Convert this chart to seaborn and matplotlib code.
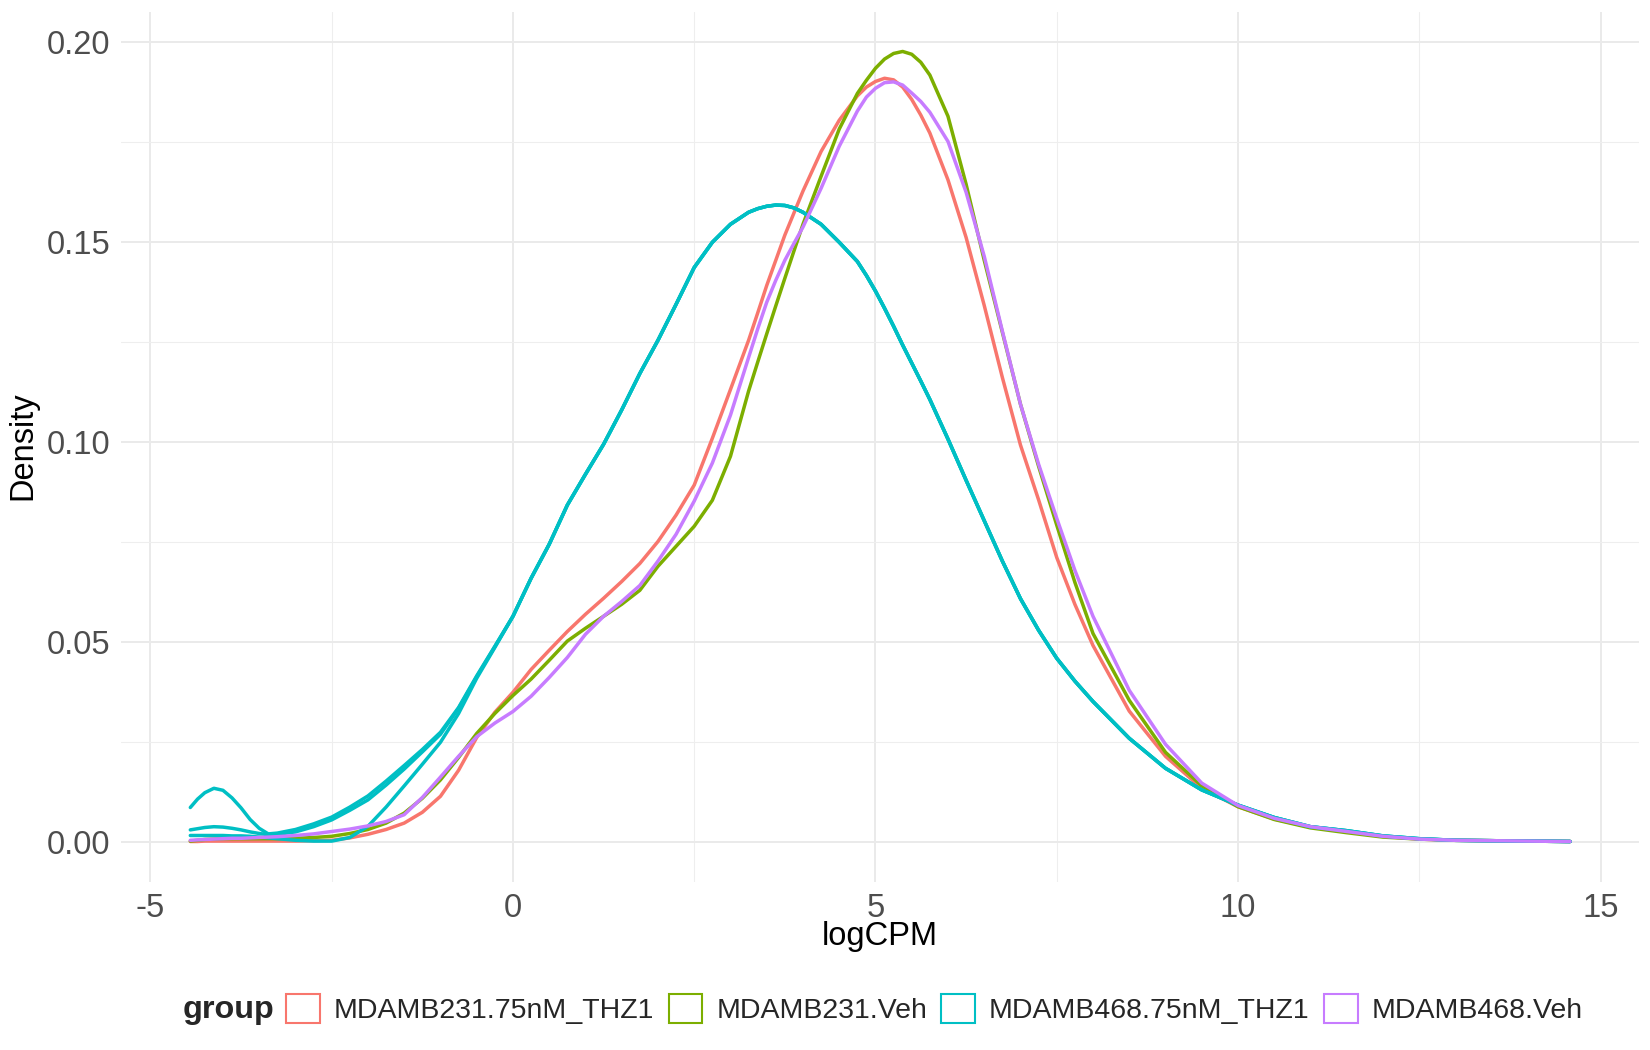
import numpy as np
import pandas as pd
import seaborn as sns
import matplotlib.pyplot as plt
from matplotlib.patches import Patch
from matplotlib.ticker import MultipleLocator, FormatStrFormatter

logcpm_low = [-4.45, -4.35, -4.25, -4.125, -4.0, -3.875, -3.75, -3.625, -3.5, -3.375, -3.25, -3.0,
              -2.75, -2.5, -2.25, -2.0, -1.75, -1.5, -1.25, -1.0, -0.75, -0.5, -0.25]
logcpm_high = [0.0, 0.25, 0.5, 0.75, 1.0, 1.25, 1.5, 1.75, 2.0, 2.25, 2.5, 2.75, 3.0, 3.25,
               3.375, 3.5, 3.625, 3.75, 3.875, 4.0,
               4.25, 4.5, 4.75,
               4.875, 5.0, 5.125, 5.25, 5.375, 5.5, 5.625, 5.75,
               6.0, 6.25, 6.5, 6.75, 7.0, 7.25, 7.5, 7.75, 8.0,
               8.5, 9.0, 9.5, 10.0, 10.5, 11.0, 11.5, 12.0, 12.5, 13.0, 13.5, 14.0, 14.58]
logcpm = logcpm_low + logcpm_high

group_names = ["MDAMB231.75nM_THZ1", "MDAMB231.Veh", "MDAMB468.75nM_THZ1", "MDAMB468.Veh"]
group_colors = ["#F8766D", "#7CAE00", "#00BFC4", "#C77CFF"]

# MDAMB231 + THZ1
low_231_thz1 = [0.0002, 0.0002, 0.0003, 0.0003, 0.0003, 0.0003, 0.0003, 0.0003, 0.0003, 0.0003, 0.0003, 0.0003,
                0.0004, 0.0005, 0.0011, 0.0020, 0.0032, 0.0048, 0.0075, 0.0115, 0.0180, 0.0262, 0.0325]
high_231_thz1 = [0.0375, 0.0432, 0.0480, 0.0527, 0.0570, 0.0610, 0.0652, 0.0697, 0.0752, 0.0818, 0.0893, 0.1010, 0.1132, 0.1255,
                 0.1323, 0.1392, 0.1455, 0.1518, 0.1573, 0.1628,
                 0.1727, 0.1805, 0.1866,
                 0.1888, 0.1902, 0.1910, 0.1906, 0.1888, 0.1857, 0.1818, 0.1773,
                 0.1656, 0.1512, 0.1342, 0.1162, 0.0993, 0.0856, 0.0712, 0.0595, 0.0492,
                 0.0328, 0.0215, 0.0135, 0.0089, 0.0058, 0.0038, 0.0027, 0.0015, 0.0008, 0.0005, 0.0004, 0.0003, 0.0002]

# MDAMB231 vehicle
low_231_veh = [0.0003, 0.0005, 0.0007, 0.0008, 0.0009, 0.0009, 0.0009, 0.0009, 0.0009, 0.0009, 0.0009, 0.0010,
               0.0012, 0.0015, 0.0022, 0.0032, 0.0048, 0.0073, 0.0110, 0.0156, 0.0212, 0.0272, 0.0322]
high_231_veh = [0.0367, 0.0408, 0.0455, 0.0503, 0.0535, 0.0565, 0.0595, 0.0630, 0.0690, 0.0740, 0.0790, 0.0855, 0.0965, 0.1128,
                0.1200, 0.1271, 0.1341, 0.1410, 0.1478, 0.1545,
                0.1665, 0.1783, 0.1872,
                0.1905, 0.1935, 0.1958, 0.1972, 0.1977, 0.1970, 0.1950, 0.1918,
                0.1815, 0.1645, 0.1455, 0.1275, 0.1095, 0.0940, 0.0793, 0.0650, 0.0522,
                0.0355, 0.0225, 0.0141, 0.0089, 0.0057, 0.0036, 0.0024, 0.0013, 0.0008, 0.0005, 0.0004, 0.0003, 0.0002]

# MDAMB468 vehicle
low_468_veh = [0.0005, 0.0006, 0.0007, 0.0008, 0.0009, 0.0010, 0.0010, 0.0011, 0.0012, 0.0013, 0.0014, 0.0017,
               0.0021, 0.0027, 0.0033, 0.0041, 0.0052, 0.0069, 0.0112, 0.0163, 0.0215, 0.0264, 0.0298]
high_468_veh = [0.0327, 0.0365, 0.0412, 0.0462, 0.0520, 0.0565, 0.0602, 0.0642, 0.0703, 0.0770, 0.0853, 0.0948, 0.1068, 0.1212,
                0.1283, 0.1350, 0.1405, 0.1455, 0.1497, 0.1538,
                0.1635, 0.1740, 0.1828,
                0.1863, 0.1885, 0.1899, 0.1901, 0.1893, 0.1873, 0.1852, 0.1825,
                0.1752, 0.1625, 0.1465, 0.1278, 0.1095, 0.0945, 0.0810, 0.0680, 0.0565,
                0.0380, 0.0245, 0.0148, 0.0092, 0.0060, 0.0039, 0.0027, 0.0015, 0.0008, 0.0005, 0.0004, 0.0003, 0.0002]

# MDAMB468 + THZ1: three replicates that only split apart below logCPM 0
low_468_thz1_a = [0.0087, 0.0108, 0.0124, 0.0135, 0.0130, 0.0111, 0.0086, 0.0057, 0.0035, 0.0021, 0.0023, 0.0032,
                  0.0046, 0.0063, 0.0088, 0.0116, 0.0153, 0.0192, 0.0232, 0.0275, 0.0337, 0.0416, 0.0490]
low_468_thz1_b = [0.0031, 0.0034, 0.0037, 0.0039, 0.0038, 0.0035, 0.0031, 0.0026, 0.0022, 0.0019, 0.0020, 0.0026,
                  0.0039, 0.0056, 0.0080, 0.0106, 0.0143, 0.0183, 0.0226, 0.0270, 0.0335, 0.0414, 0.0489]
low_468_thz1_c = [0.0017, 0.0017, 0.0017, 0.0017, 0.0017, 0.0016, 0.0016, 0.0015, 0.0013, 0.0011, 0.0009, 0.0005,
                  0.0003, 0.0003, 0.0012, 0.0040, 0.0088, 0.0141, 0.0195, 0.0250, 0.0322, 0.0410, 0.0487]
high_468_thz1 = [0.0565, 0.0660, 0.0745, 0.0843, 0.0920, 0.0995, 0.1081, 0.1172, 0.1255, 0.1345, 0.1437, 0.1500, 0.1545, 0.1575,
                 0.1584, 0.1590, 0.1593, 0.1592, 0.1586, 0.1575,
                 0.1545, 0.1500, 0.1452,
                 0.1417, 0.1378, 0.1335, 0.1290, 0.1243, 0.1198, 0.1153, 0.1107,
                 0.1008, 0.0905, 0.0804, 0.0703, 0.0609, 0.0530, 0.0460, 0.0403, 0.0352,
                 0.0260, 0.0185, 0.0131, 0.0093, 0.0062, 0.0039, 0.0029, 0.0016, 0.0009, 0.0005, 0.0004, 0.0003, 0.0002]

curves = [
    (group_names[0], "231_THZ1", low_231_thz1 + high_231_thz1),
    (group_names[1], "231_Veh", low_231_veh + high_231_veh),
    (group_names[2], "468_THZ1_a", low_468_thz1_a + high_468_thz1),
    (group_names[2], "468_THZ1_b", low_468_thz1_b + high_468_thz1),
    (group_names[2], "468_THZ1_c", low_468_thz1_c + high_468_thz1),
    (group_names[3], "468_Veh", low_468_veh + high_468_veh),
]

frames = []
for grp, smp, dens in curves:
    frames.append(pd.DataFrame({"logCPM": logcpm, "Density": dens, "group": grp, "sample": smp}))
df = pd.concat(frames, ignore_index=True)

sns.set_theme(style="white")
plt.rcParams['font.family'] = ['Liberation Sans', 'DejaVu Sans']
plt.rcParams['axes.unicode_minus'] = False

fig = plt.figure(figsize=(16.5, 10.5), dpi=100)
ax = fig.add_axes([0.0736, 0.1601, 0.9197, 0.8286])

sns.lineplot(data=df, x="logCPM", y="Density", hue="group", units="sample", estimator=None,
             palette=dict(zip(group_names, group_colors)), hue_order=group_names,
             linewidth=2.5, sort=False, legend=False, ax=ax)

ax.set_xlim(-5.40, 15.53)
ax.set_ylim(-0.0099, 0.2076)
ax.xaxis.set_major_locator(MultipleLocator(5))
ax.xaxis.set_minor_locator(MultipleLocator(2.5))
ax.yaxis.set_major_locator(MultipleLocator(0.05))
ax.yaxis.set_minor_locator(MultipleLocator(0.025))
ax.yaxis.set_major_formatter(FormatStrFormatter('%.2f'))
ax.grid(which='major', color='#EAEAEA', linewidth=1.4)
ax.grid(which='minor', color='#EEEEEE', linewidth=0.8)
ax.set_axisbelow(True)
for s in ax.spines.values():
    s.set_visible(False)
ax.tick_params(which='major', length=5, width=0.8, color='#B5B5B5', labelsize=23.5,
               labelcolor='#4D4D4D', pad=3)
ax.tick_params(which='minor', length=0)

ax.set_xlabel("logCPM", fontsize=23.5, color='black', va='center')
ax.xaxis.set_label_coords(0.5, -0.0633)
ax.set_ylabel("Density", fontsize=23.5, color='black', va='center')
ax.yaxis.set_label_coords(-0.0649, 0.501)

handles = [Patch(facecolor='none', edgecolor=c, linewidth=1.5) for c in group_colors]
fig.text(0.1107, 0.0302, "group", fontsize=23.3, fontweight='bold', ha='left', va='baseline')
fig.legend(handles, group_names, loc='center left', bbox_to_anchor=(0.1736, 0.0390), ncol=4,
           frameon=False, fontsize=20.5, handlelength=1.19, handleheight=1.19, handletextpad=0.48,
           columnspacing=0.5, borderpad=0, borderaxespad=0)

fig.savefig("out.png", dpi=100)
